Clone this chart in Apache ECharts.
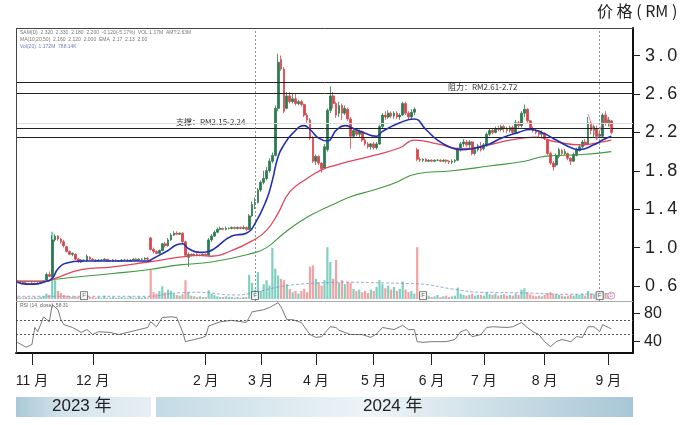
<!DOCTYPE html>
<html><head><meta charset="utf-8">
<script src="https://cdn.jsdelivr.net/npm/echarts/dist/echarts.min.js"></script>
<style>html,body{margin:0;padding:0;background:#fff}#c{width:690px;height:425px}</style>
</head><body><div id="c"></div><script>
// ---- data ----
// candles: [open, close, low, high]
const candles = [
[0.65,0.64,0.63,0.66],[0.64,0.64,0.63,0.65],[0.64,0.63,0.62,0.65],[0.63,0.62,0.61,0.64],[0.62,0.62,0.61,0.63],[0.62,0.63,0.61,0.64],[0.63,0.62,0.61,0.63],[0.62,0.63,0.62,0.64],[0.63,0.64,0.62,0.65],[0.64,0.65,0.63,0.66],
[0.66,0.72,0.65,0.74],[0.72,0.70,0.69,0.75],[0.70,1.08,0.69,1.13],[1.08,1.12,1.06,1.14],[1.12,1.09,1.07,1.13],[1.09,1.06,1.04,1.10],[1.06,1.02,1.00,1.08],[1.01,0.96,0.95,1.02],[0.96,0.93,0.92,0.97],[0.93,0.94,0.91,0.95],
[0.93,0.88,0.87,0.94],[0.88,0.85,0.84,0.89],[0.85,0.87,0.84,0.88],[0.87,0.86,0.85,0.88],[0.86,0.91,0.85,0.93],[0.90,0.88,0.87,0.91],[0.88,0.87,0.86,0.89],[0.87,0.86,0.85,0.88],[0.86,0.87,0.85,0.88],[0.87,0.87,0.86,0.88],
[0.87,0.88,0.86,0.89],[0.88,0.86,0.85,0.88],[0.86,0.86,0.85,0.87],[0.86,0.87,0.85,0.88],[0.87,0.86,0.85,0.88],[0.86,0.86,0.85,0.87],[0.86,0.87,0.85,0.88],[0.87,0.87,0.86,0.88],[0.87,0.86,0.85,0.88],[0.86,0.87,0.85,0.88],
[0.87,0.88,0.86,0.89],[0.88,0.87,0.86,0.89],[0.87,0.88,0.86,0.89],[0.88,0.88,0.87,0.89],[0.88,0.89,0.87,0.90],[0.89,0.88,0.87,0.90],[1.10,0.98,0.97,1.11],[0.98,0.96,0.94,1.00],[0.96,0.94,0.93,0.97],[0.94,0.97,0.93,0.98],
[0.97,1.04,0.96,1.05],[1.04,1.02,1.00,1.06],[1.02,1.08,1.01,1.10],[1.08,1.13,1.07,1.15],[1.13,1.15,1.12,1.17],[1.15,1.14,1.13,1.17],[1.14,1.15,1.13,1.16],[1.15,1.06,1.05,1.16],[1.06,0.92,0.90,1.07],[0.90,0.93,0.80,0.95],
[0.93,0.92,0.91,0.94],[0.92,0.93,0.91,0.94],[0.93,0.92,0.91,0.94],[0.92,0.92,0.91,0.93],[0.92,0.93,0.91,0.94],[0.93,0.92,0.91,0.94],[0.92,1.08,0.91,1.10],[1.08,1.12,1.06,1.14],[1.12,1.16,1.11,1.18],[1.16,1.19,1.15,1.21],
[1.19,1.20,1.18,1.22],[1.20,1.19,1.18,1.21],[1.19,1.20,1.18,1.22],[1.20,1.20,1.19,1.21],[1.20,1.21,1.19,1.22],[1.21,1.20,1.19,1.22],[1.20,1.21,1.19,1.22],[1.21,1.20,1.19,1.22],[1.20,1.21,1.19,1.23],[1.21,1.19,1.17,1.22],
[1.19,1.33,1.18,1.35],[1.33,1.45,1.32,1.48],[1.45,1.47,1.40,1.52],[1.47,1.60,1.46,1.62],[1.60,1.68,1.58,1.70],[1.68,1.72,1.66,1.80],[1.72,1.80,1.70,1.84],[1.80,1.90,1.78,1.93],[1.90,1.96,1.88,1.99],[1.96,2.45,1.95,2.48],
[2.45,2.93,2.42,3.02],[2.96,2.86,2.84,3.00],[2.86,2.42,2.40,2.88],[2.45,2.58,2.44,2.62],[2.58,2.52,2.50,2.62],[2.52,2.55,2.50,2.60],[2.55,2.50,2.48,2.60],[2.50,2.52,2.48,2.54],[2.52,2.49,2.47,2.54],[2.49,2.38,2.36,2.50],
[2.38,2.33,2.30,2.40],[2.33,2.14,2.12,2.35],[2.14,1.90,1.88,2.16],[1.90,1.95,1.86,1.97],[1.95,1.88,1.86,1.96],[1.88,1.82,1.78,1.89],[1.83,2.05,1.82,2.08],[2.02,2.43,2.00,2.45],[2.43,2.58,2.40,2.68],[2.58,2.50,2.45,2.62],
[2.50,2.38,2.35,2.52],[2.40,2.48,2.36,2.52],[2.48,2.40,2.33,2.50],[2.40,2.45,2.38,2.48],[2.44,2.34,2.32,2.46],[2.34,2.16,2.03,2.36],[2.16,2.22,2.14,2.24],[2.22,2.18,2.16,2.24],[2.18,2.21,2.15,2.23],[2.21,2.12,2.10,2.22],
[2.12,2.08,2.06,2.14],[2.08,2.05,2.03,2.10],[2.05,2.08,2.02,2.09],[2.08,2.04,2.02,2.10],[2.04,2.08,2.02,2.10],[2.08,2.26,2.07,2.28],[2.26,2.38,2.24,2.40],[2.38,2.36,2.33,2.42],[2.36,2.40,2.34,2.43],[2.40,2.37,2.35,2.42],
[2.37,2.40,2.34,2.42],[2.40,2.36,2.34,2.42],[2.36,2.38,2.33,2.40],[2.38,2.50,2.37,2.52],[2.50,2.40,2.38,2.52],[2.40,2.36,2.33,2.42],[2.36,2.41,2.34,2.44],[2.41,2.44,2.38,2.46],[2.02,1.92,1.90,2.04],[1.92,1.91,1.89,1.94],
[1.91,1.92,1.89,1.93],[1.92,1.90,1.89,1.93],[1.90,1.91,1.89,1.92],[1.91,1.90,1.89,1.92],[1.90,1.91,1.89,1.92],[1.91,1.91,1.90,1.92],[1.91,1.90,1.89,1.92],[1.90,1.91,1.89,1.92],[1.91,1.90,1.88,1.92],[1.90,1.89,1.87,1.91],
[1.89,1.90,1.87,1.92],[1.90,1.91,1.88,1.92],[1.91,2.02,1.90,2.04],[2.02,2.08,2.00,2.10],[2.08,2.10,2.05,2.13],[2.10,2.07,2.05,2.12],[2.07,2.10,2.04,2.12],[2.10,1.98,1.96,2.11],[1.98,2.02,1.96,2.04],[2.02,2.06,2.00,2.08],
[2.06,2.02,2.00,2.10],[2.03,2.07,2.01,2.09],[2.06,2.18,2.05,2.20],[2.18,2.22,2.16,2.24],[2.22,2.20,2.18,2.24],[2.20,2.24,2.19,2.26],[2.24,2.23,2.21,2.27],[2.23,2.26,2.21,2.28],[2.26,2.24,2.20,2.28],[2.24,2.22,2.19,2.26],
[2.22,2.25,2.20,2.27],[2.25,2.20,2.18,2.27],[2.20,2.30,2.19,2.33],[2.30,2.27,2.24,2.32],[2.27,2.40,2.25,2.42],[2.40,2.44,2.36,2.49],[2.44,2.32,2.30,2.45],[2.32,2.24,2.22,2.33],[2.24,2.22,2.20,2.26],[2.22,2.20,2.18,2.24],
[2.20,2.18,2.15,2.22],[2.18,2.20,2.14,2.22],[2.19,2.14,2.12,2.20],[2.12,1.98,1.96,2.13],[1.98,1.88,1.86,2.00],[1.88,1.84,1.80,1.90],[1.86,1.96,1.84,1.98],[1.95,2.02,1.93,2.04],[2.01,1.98,1.96,2.03],[1.98,2.00,1.96,2.03],
[1.98,1.93,1.91,1.99],[1.93,1.90,1.86,1.94],[1.90,1.97,1.89,1.99],[1.96,2.02,1.95,2.04],[2.01,2.05,2.00,2.08],[2.05,2.10,2.03,2.12],[2.10,2.08,2.06,2.13],[2.08,2.30,2.07,2.36],[2.28,2.22,2.18,2.31],[2.22,2.26,2.15,2.28],
[2.24,2.16,2.12,2.27],[2.16,2.18,2.14,2.22],[2.16,2.38,2.15,2.40],[2.38,2.30,2.27,2.42],[2.30,2.33,2.26,2.36],[2.32,2.20,2.18,2.33]
];
const volumes = [
3,2,2,3,2,2,3,2,3,4,
8,6,100,28,12,9,6,5,4,3,
4,3,3,2,6,3,3,2,3,2,
5,2,2,3,2,2,3,2,2,4,
2,2,3,2,3,2,43,10,8,12,
19,10,14,12,8,6,5,7,28,10,
5,4,3,4,3,3,13,8,6,4,
3,3,4,3,3,2,3,2,3,3,
36,24,14,40,12,22,28,20,76,45,
35,30,28,22,15,10,12,8,12,15,
10,48,50,30,25,20,28,77,55,30,
58,24,28,22,25,24,15,12,14,10,
12,9,14,12,18,28,22,16,20,14,
18,12,15,26,14,10,12,8,77,8,
5,4,5,3,4,6,3,4,5,3,
4,5,17,8,6,5,6,8,5,6,
6,5,10,7,6,8,5,6,7,5,
6,5,8,6,14,16,10,7,5,4,
5,4,6,9,10,8,7,6,5,4,
5,6,5,7,6,8,5,12,8,7,
9,6,12,9,6,5
];
// moving averages read at sample days: [dayIndex, value]
const maShort = [[0,0.64],[3,0.62],[6,0.62],[9,0.64],[12,0.68],[14,0.78],[17,0.84],[22,0.86],[33,0.86],[45,0.86],[47,0.89],[52,0.97],[55,1.03],[57,1.04],[59,0.99],[63,0.95],[66,0.96],[68,0.99],[74,1.12],[79,1.15],[82,1.25],[86,1.50],[88,1.70],[90,1.95],[92,2.07],[95,2.19],[99,2.27],[101,2.23],[104,2.14],[107,2.11],[110,2.22],[113,2.27],[116,2.24],[120,2.19],[124,2.16],[126,2.21],[132,2.30],[137,2.34],[141,2.23],[145,2.12],[149,2.05],[153,2.02],[157,2.03],[163,2.08],[167,2.14],[173,2.20],[177,2.23],[181,2.20],[186,2.12],[192,2.03],[194,2.02],[199,2.07],[202,2.12],[205,2.16]];
const maMid = [[0,0.65],[10,0.65],[13,0.68],[22,0.77],[33,0.80],[45,0.85],[56,0.90],[63,0.92],[67,0.91],[74,0.97],[81,1.07],[86,1.18],[90,1.36],[94,1.58],[100,1.72],[105,1.81],[110,1.86],[115,1.90],[123,1.96],[132,2.04],[137,2.12],[145,2.08],[153,2.03],[163,2.07],[170,2.12],[179,2.15],[186,2.10],[195,2.07],[200,2.09],[205,2.12]];
const maLong = [[0,0.65],[10,0.65],[13,0.67],[33,0.73],[45,0.77],[56,0.82],[67,0.85],[81,0.94],[86,1.00],[92,1.15],[98,1.28],[104,1.38],[109,1.45],[115,1.53],[123,1.60],[130,1.67],[138,1.77],[150,1.80],[163,1.85],[175,1.90],[182,1.95],[195,1.97],[205,2.00]];
const volMA = [[0,4],[45,4],[55,9],[62,10],[75,6],[80,8],[88,16],[95,21],[105,24],[115,25],[125,24],[135,23],[140,22],[150,15],[160,10],[175,9],[190,7],[205,8]];
const rsi = [[0,39],[3,32],[5,36],[6,60],[7,54],[8,64],[9,75],[11,68],[12,92],[14,85],[15,71],[16,64],[19,60],[22,53],[24,57],[26,50],[28,54],[32,53],[35,50],[39,54],[42,57],[45,60],[46,68],[48,61],[50,74],[53,75],[55,74],[57,54],[58,40],[61,43],[64,46],[65,48],[66,62],[70,68],[74,70],[79,67],[80,74],[81,82],[85,85],[87,88],[90,95],[91,89],[93,71],[95,71],[98,67],[101,50],[103,46],[105,47],[108,61],[110,60],[111,56],[115,50],[119,50],[122,46],[124,51],[126,60],[130,57],[133,63],[135,57],[137,57],[138,40],[140,39],[143,40],[148,40],[151,43],[153,54],[155,57],[157,47],[160,50],[162,60],[164,61],[169,60],[171,61],[174,67],[176,60],[178,54],[180,50],[182,40],[184,33],[186,40],[188,43],[191,40],[193,47],[195,46],[197,61],[199,61],[201,54],[202,64],[204,60],[205,58]];
const zigzag = [[197,2.39],[200,2.12],[203,2.40],[205,2.22]];
const monthLabels = ['11 月','12 月','2 月','3 月','4 月','5 月','6 月','7 月','8 月','9 月'];
const monthStartIdx = [5,26,65,84,103,123,143,161,182,204];
const priceTicks = [0.6,1.0,1.4,1.8,2.2,2.6,3.0];
const rsiTicks = [40,80];
const rsiGuides = [70,50];
const resistance = [2.72,2.61];
const support = [2.24,2.15];
const faintLevel = 2.30;
const markerIdx = [23,82,140,201];
const circleIdx = [205];
const dottedIdx = [82,201];
const totalSlots = 213;
const categories = Array.from({length: totalSlots}, (_, i) => 'D' + i);

// ---- chart ----
const FONT = "'Liberation Sans', Arial, 'Noto Sans CJK SC', sans-serif";
const UP = '#2f7a52', DOWN = '#d9464a', VUP = '#7fd0c0', VDOWN = '#f2a2a2';
const chart = echarts.init(document.getElementById('c'), null, {renderer: 'canvas'});
const spaced = s => s.split('').join('\u2009');
const L = 16, R = 57;

const option = {
  animation: false,
  backgroundColor: '#fff',
  textStyle: {fontFamily: FONT},
  grid: [
    {left: L, right: R, top: 28, height: 273},
    {left: L, right: R, top: 225, height: 74},
    {left: L, right: R, top: 301, height: 52}
  ],
  xAxis: [
    {type: 'category', gridIndex: 0, data: categories, boundaryGap: true, axisLine: {show: false}, axisTick: {show: false}, axisLabel: {show: false}, splitLine: {show: false}},
    {type: 'category', gridIndex: 1, data: categories, boundaryGap: true, axisLine: {show: false}, axisTick: {show: false}, axisLabel: {show: false}, splitLine: {show: false}},
    {type: 'category', gridIndex: 2, data: categories, boundaryGap: true,
      axisLine: {show: true, lineStyle: {color: '#111', width: 2}},
      axisTick: {show: true, alignWithLabel: true, length: 12, lineStyle: {color: '#222', width: 1},
        interval: (idx) => monthStartIdx.includes(idx)},
      axisLabel: {show: true, margin: 21, fontSize: 14, color: '#222', fontFamily: FONT,
        interval: (idx) => monthStartIdx.includes(idx),
        formatter: (v, idx) => { const k = monthStartIdx.indexOf(idx); return k >= 0 ? monthLabels[k] : ''; }},
      splitLine: {show: false}}
  ],
  yAxis: [
    {type: 'value', gridIndex: 0, position: 'right', min: 0.444, max: 3.287, scale: true,
      axisLine: {show: true, lineStyle: {color: '#111', width: 2}},
      axisTick: {show: true, length: 7, customValues: priceTicks, lineStyle: {color: '#222'}},
      axisLabel: {show: true, customValues: priceTicks, margin: 12, fontSize: 18, color: '#222', fontFamily: FONT,
        formatter: v => spaced(v.toFixed(1))},
      splitLine: {show: false}},
    {type: 'value', gridIndex: 1, min: 0, max: 110, show: false, splitLine: {show: false}},
    {type: 'value', gridIndex: 2, position: 'right', min: 24, max: 97.3,
      axisLine: {show: true, lineStyle: {color: '#111', width: 2}},
      axisTick: {show: true, length: 7, customValues: rsiTicks, lineStyle: {color: '#222'}},
      axisLabel: {show: true, customValues: rsiTicks, margin: 11, fontSize: 16, color: '#222', fontFamily: FONT},
      splitLine: {show: false}}
  ],
  series: [
    {type: 'bar', name: 'vol', xAxisIndex: 1, yAxisIndex: 1, barWidth: 2.2, z: 1,
      data: volumes.map((v, i) => ({value: v, itemStyle: {color: candles[i][1] >= candles[i][0] ? VUP : VDOWN}}))},
    {type: 'line', name: 'volMA', xAxisIndex: 1, yAxisIndex: 1, data: volMA, smooth: true, showSymbol: false, z: 2,
      lineStyle: {color: '#7d93c9', width: 0.8, type: [3, 2]}},
    {type: 'scatter', name: 'flags', xAxisIndex: 1, yAxisIndex: 1, z: 6,
      data: markerIdx.map(i => [i, 5]), symbol: 'rect', symbolSize: [7, 8],
      itemStyle: {color: '#fff', borderColor: '#333', borderWidth: 0.8},
      label: {show: true, formatter: 'F', fontSize: 6, color: '#333', position: 'inside'}},
    {type: 'scatter', name: 'circle', xAxisIndex: 1, yAxisIndex: 1, z: 6,
      data: circleIdx.map(i => [i, 5]), symbol: 'circle', symbolSize: 7,
      itemStyle: {color: '#fff', borderColor: '#c86aa8', borderWidth: 0.9},
      label: {show: true, formatter: 'D', fontSize: 5, color: '#c86aa8', position: 'inside'}},
    {type: 'candlestick', name: 'price', xAxisIndex: 0, yAxisIndex: 0, data: candles, barWidth: 2.2, z: 3,
      itemStyle: {color: UP, color0: DOWN, borderColor: UP, borderColor0: DOWN, borderWidth: 0.8},
      markLine: {silent: true, symbol: ['none', 'none'], label: {show: false}, animation: false,
        data: [
          ...resistance.map(v => ({yAxis: v, lineStyle: {color: '#222', width: 1, type: 'solid'}})),
          ...support.map(v => ({yAxis: v, lineStyle: {color: '#222', width: 1, type: 'solid'}})),
          {yAxis: faintLevel, lineStyle: {color: '#dedede', width: 1, type: 'solid'}},
          ...dottedIdx.map(i => ({xAxis: categories[i], lineStyle: {color: '#777', width: 0.8, type: [2, 2]}}))
        ]}},
    {type: 'line', name: 'MA long', xAxisIndex: 0, yAxisIndex: 0, data: maLong, smooth: true, showSymbol: false, z: 4,
      lineStyle: {color: '#3e9a3e', width: 1.1}},
    {type: 'line', name: 'MA mid', xAxisIndex: 0, yAxisIndex: 0, data: maMid, smooth: true, showSymbol: false, z: 4,
      lineStyle: {color: '#e0465c', width: 1.3}},
    {type: 'line', name: 'MA short', xAxisIndex: 0, yAxisIndex: 0, data: maShort, smooth: true, showSymbol: false, z: 5,
      lineStyle: {color: '#2230b0', width: 1.6}},
    {type: 'line', name: 'zigzag', xAxisIndex: 0, yAxisIndex: 0, data: zigzag, showSymbol: false, z: 5,
      lineStyle: {color: '#e07088', width: 0.8}},
    {type: 'line', name: 'RSI', xAxisIndex: 2, yAxisIndex: 2, data: rsi, showSymbol: false, z: 3,
      lineStyle: {color: '#555', width: 0.8},
      markLine: {silent: true, symbol: ['none', 'none'], label: {show: false},
        data: rsiGuides.map(v => ({yAxis: v})), lineStyle: {color: '#555', width: 1, type: [2, 2]}}}
  ],
  graphic: [
    {type: 'line', shape: {x1: 16.5, y1: 28, x2: 16.5, y2: 353}, style: {stroke: '#444', lineWidth: 1}, z: 10},
    {type: 'line', shape: {x1: 16, y1: 28.5, x2: 633, y2: 28.5}, style: {stroke: '#444', lineWidth: 1}, z: 10},
    {type: 'line', shape: {x1: 16, y1: 301.5, x2: 633, y2: 301.5}, style: {stroke: '#aaa', lineWidth: 1}, z: 10},
    {type: 'text', left: 597, top: 3, style: {text: '价 格 ( RM )', font: "16px 'Noto Sans CJK SC', sans-serif", fill: '#222'}},
    {type: 'text', left: 20, top: 30, style: {text: 'SAM(D)  2.320  2.330  2.180  2.200  -0.120(-5.17%)  VOL:1.17M  AMT:2.63M', font: '5px ' + FONT, fill: '#777'}},
    {type: 'text', left: 20, top: 37, style: {text: 'MA(10,20,50)  2.160  2.120  2.000  EMA  2.17  2.13  2.00', font: '5px ' + FONT, fill: '#777'}},
    {type: 'text', left: 20, top: 44, style: {text: 'Vol(20)  1.172M  788.14K', font: '5px ' + FONT, fill: '#6d7fc4'}},
    {type: 'text', left: 20, top: 303, style: {text: 'RSI (14, close)  58.31', font: '5px ' + FONT, fill: '#666'}},
    {type: 'text', left: 448, top: 83, style: {text: '阻力：RM2.61-2.72', font: "8px 'Noto Sans CJK SC', sans-serif", fill: '#333'}},
    {type: 'text', left: 176, top: 118, style: {text: '支撑：RM2.15-2.24', font: "8px 'Noto Sans CJK SC', sans-serif", fill: '#333'}},
    {type: 'rect', shape: {x: 16, y: 397, width: 135, height: 20},
      style: {fill: new echarts.graphic.LinearGradient(0, 0, 1, 0, [{offset: 0, color: '#a9c8d7'}, {offset: 0.35, color: '#d4e4ec'}, {offset: 1, color: '#e6eff4'}])}},
    {type: 'rect', shape: {x: 156, y: 397, width: 477, height: 20},
      style: {fill: new echarts.graphic.LinearGradient(0, 0, 1, 0, [{offset: 0, color: '#c4dbe5'}, {offset: 0.45, color: '#eef4f7'}, {offset: 1, color: '#a8c7d6'}])}},
    {type: 'text', left: 52, top: 398, style: {text: '2023 年', font: "17px 'Liberation Sans', 'Noto Sans CJK SC', sans-serif", fill: '#222'}},
    {type: 'text', left: 363, top: 398, style: {text: '2024 年', font: "17px 'Liberation Sans', 'Noto Sans CJK SC', sans-serif", fill: '#222'}}
  ]
};
chart.setOption(option);
</script></body></html>
